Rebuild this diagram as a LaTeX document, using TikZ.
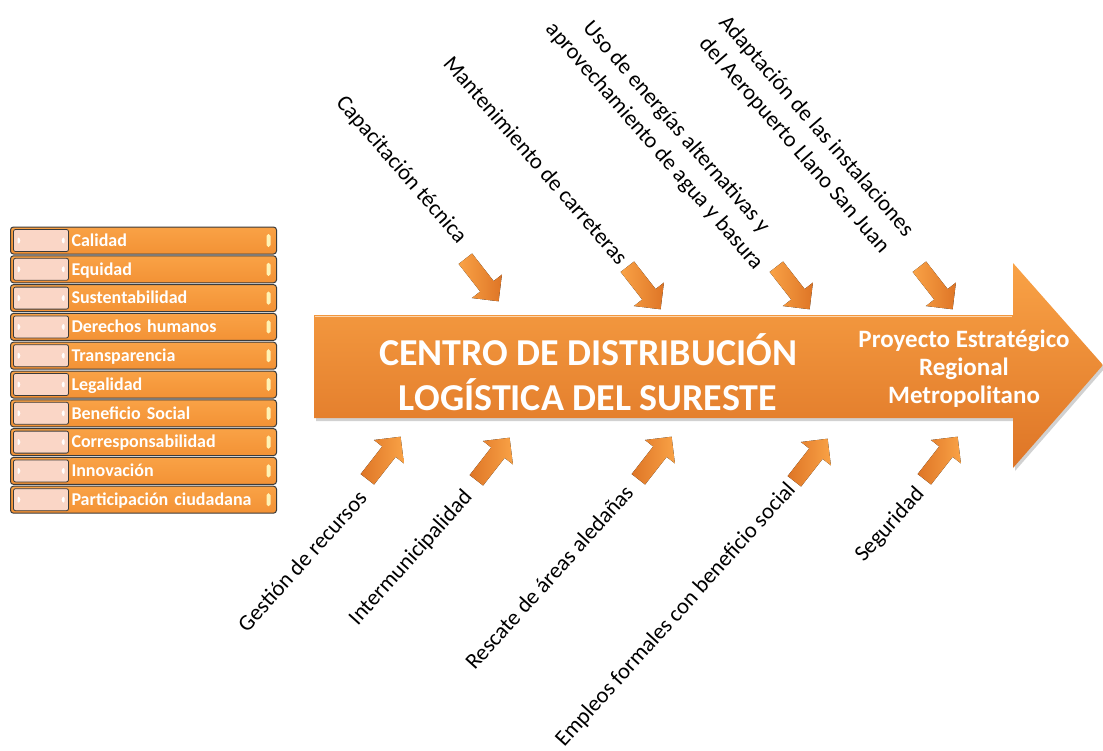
\documentclass[tikz,border=0pt]{standalone}
\usepackage{fontspec}
\setmainfont{Carlito}

\definecolor{orLight}{HTML}{F9A246}
\definecolor{orMid}{HTML}{F39235}
\definecolor{orDark}{HTML}{DE7526}
\definecolor{rosa}{HTML}{FAD6C6}
\definecolor{crema}{HTML}{FFF3B5}
\definecolor{borde}{HTML}{3B3B3B}

\begin{document}
\begin{tikzpicture}[x=1pt, y=-1pt]
        \tikzstyle{every node}=[inner sep=0pt]
        \tikzstyle{valor}=[anchor=west, draw=borde, line width=1pt, rounded corners=3pt,
            top color=orLight, bottom color=orMid, minimum width=266pt, minimum height=27pt,
            text width=266pt, align=left, text height=11.5pt, text depth=0pt, text=white,
            font=\bfseries\fontsize{18}{20}\selectfont,
            execute at begin node={\noindent\hspace*{61pt}},
            path picture={
                \draw[borde, fill=rosa, line width=0.8pt, rounded corners=2pt]
                    ([xshift=3pt,yshift=-2.5pt]path picture bounding box.north west) rectangle
                    ([xshift=58pt,yshift=2.5pt]path picture bounding box.south west);
                \fill[white] ([xshift=7pt,yshift=4.5pt]path picture bounding box.west)
                    -- ++(4pt,-4.5pt) -- ++(-4pt,-4.5pt) -- cycle;
                \fill[white] ([xshift=54pt,yshift=4.5pt]path picture bounding box.west)
                    -- ++(-4pt,-4.5pt) -- ++(4pt,-4.5pt) -- cycle;
                \fill[crema, rounded corners=1.8pt] ([xshift=-10pt,yshift=6.5pt]path picture bounding box.east)
                    rectangle ([xshift=-6pt,yshift=-6.5pt]path picture bounding box.east);
            }]
        \tikzstyle{rama}=[font=\fontsize{22.5}{29}\selectfont, align=center]
        \tikzstyle{arriba}=[rama, rotate=-49]
        \tikzstyle{abajo}=[rama, rotate=48]
        \tikzstyle{titulo}=[text=white, align=center, font=\bfseries\fontsize{38}{45}\selectfont]
        \tikzset{pics/flecha/.style 2 args={code={
            \fill[left color=#1, right color=#2]
                (-27,-8.5) -- (8,-8.5) -- (8,-19) -- (27,0) -- (8,19) -- (8,8.5) -- (-27,8.5) -- cycle;
        }}}

        \fill[white] (0,0) rectangle (1103,750);
        \useasboundingbox (0,0) rectangle (1103,750);

        % valores
        \node[valor] (v1)  at (10,240.5) {Calidad};
        \node[valor] (v2)  at (10,269.3) {Equidad};
        \node[valor] (v3)  at (10,298.1) {Sustentabilidad};
        \node[valor] (v4)  at (10,326.9) {Derechos humanos};
        \node[valor] (v5)  at (10,355.7) {Transparencia};
        \node[valor] (v6)  at (10,384.5) {Legalidad};
        \node[valor] (v7)  at (10,413.3) {Beneficio Social};
        \node[valor] (v8)  at (10,442.1) {Corresponsabilidad};
        \node[valor] (v9)  at (10,470.9) {Innovación};
        \node[valor] (v10) at (10,499.7) {Participación ciudadana};

        % flecha principal
        \fill[black, opacity=0.18, shift={(2,3)}] (314,315) -- (1013,315) -- (1013,263) -- (1103,365)
            -- (1013,468) -- (1013,418) -- (314,418) -- cycle;
        \shade[top color=orLight, middle color=orMid, bottom color=orDark] (314,315) -- (1013,315)
            -- (1013,263) -- (1103,365) -- (1013,468) -- (1013,418) -- (314,418) -- cycle;
        \draw[orLight!45!white, line width=1.5pt] (315,316.5) -- (1012,316.5);

        \node[titulo] (centro) at (588,372) {CENTRO DE DISTRIBUCIÓN\\LOGÍSTICA DEL SURESTE};
        \node[titulo, font=\bfseries\fontsize{25}{28}\selectfont] (proyecto) at (964,369)
            {Proyecto Estratégico\\Regional\\Metropolitano};

        % ramas superiores
        \node[arriba] (capacitacion)  at (401,170) {Capacitación técnica};
        \node[arriba] (mantenimiento) at (536,160) {Mantenimiento de carreteras};
        \node[arriba] (energias)      at (665,137) {Uso de energías alternativas y\\aprovechamiento de agua y basura};
        \node[arriba] (aeropuerto)    at (805,136) {Adaptación de las instalaciones\\del Aeropuerto Llano San Juan};

        \pic[rotate=-52] at (482,280) {flecha={orLight}{orDark}};
        \pic[rotate=-52] at (644,288) {flecha={orLight}{orDark}};
        \pic[rotate=-52] at (793,288) {flecha={orLight}{orDark}};
        \pic[rotate=-52] at (936,288) {flecha={orLight}{orDark}};

        % ramas inferiores
        \node[abajo] (gestion)   at (302,561) {Gestión de recursos};
        \node[abajo] (intermun)  at (411,558) {Intermunicipalidad};
        \node[abajo] (rescate)   at (549,577) {Rescate de áreas aledañas};
        \node[abajo] (empleos)   at (676,615) {Empleos formales con beneficio social};
        \node[abajo] (seguridad) at (890,525) {Seguridad};

        \pic[rotate=52] at (384,458) {flecha={orDark}{orLight}};
        \pic[rotate=52] at (493,459) {flecha={orDark}{orLight}};
        \pic[rotate=52] at (655,458) {flecha={orDark}{orLight}};
        \pic[rotate=52] at (811,460) {flecha={orDark}{orLight}};
        \pic[rotate=52] at (941,458) {flecha={orDark}{orLight}};
    \end{tikzpicture}
\end{document}
